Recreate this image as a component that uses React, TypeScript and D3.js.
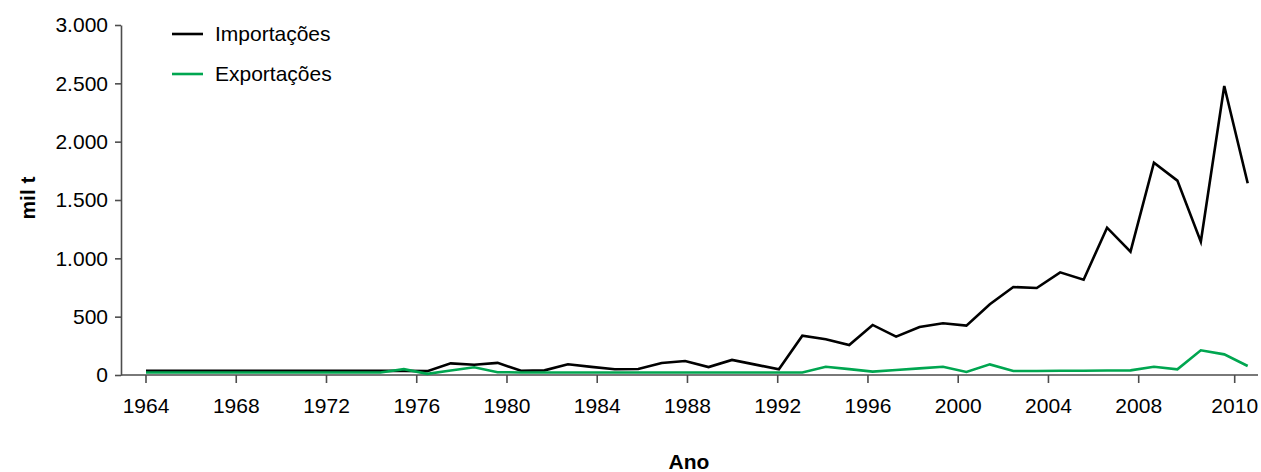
import React, { useEffect, useRef } from "react";
import * as d3 from "d3";

// anos 1964-2011, mil t
const anos = [
  1964, 1965, 1966, 1967, 1968, 1969, 1970, 1971, 1972, 1973, 1974, 1975,
  1976, 1977, 1978, 1979, 1980, 1981, 1982, 1983, 1984, 1985, 1986, 1987,
  1988, 1989, 1990, 1991, 1992, 1993, 1994, 1995, 1996, 1997, 1998, 1999,
  2000, 2001, 2002, 2003, 2004, 2005, 2006, 2007, 2008, 2009, 2010, 2011,
];

const importacoes = [
  35, 35, 35, 35, 35, 35, 35, 35, 35, 35, 35, 35,
  33, 100, 88, 104, 36, 40, 92, 70, 49, 51, 103, 120,
  68, 129, 89, 49, 337, 306, 257, 429, 329, 412, 443, 423,
  606, 754, 746, 880, 817, 1263, 1057, 1820, 1666, 1143, 2477, 1643,
];

const exportacoes = [
  22, 22, 22, 22, 22, 22, 22, 22, 22, 22, 22, 50,
  10, 38, 66, 24, 22, 22, 22, 22, 22, 22, 22, 22,
  22, 22, 22, 22, 22, 71, 50, 29, 43, 57, 71, 26,
  91, 34, 34, 36, 37, 38, 40, 71, 49, 212, 177, 77,
];

const tickAnos = [1964, 1968, 1972, 1976, 1980, 1984, 1988, 1992, 1996, 2000, 2004, 2008, 2010];
const tickValores = [0, 500, 1000, 1500, 2000, 2500, 3000];

const series = [
  { nome: "Importações", valores: importacoes, cor: "#000000" },
  { nome: "Exportações", valores: exportacoes, cor: "#00a650" },
];

function Grafico() {
  const ref = useRef<SVGSVGElement>(null);

  useEffect(() => {
    const width = 1261;
    const height = 472;
    const font = "'Liberation Sans', Arial, sans-serif";
    const fs = "21px";

    const svg = d3.select(ref.current);
    svg.selectAll("*").remove();
    svg.attr("width", width).attr("height", height);

    const x = d3.scaleLinear().domain([1964, 2011]).range([146, 1247.7]);
    // os rótulos do eixo x não acompanham exatamente os pontos
    const xTick = d3.scaleLinear().domain([1964, 2008, 2010]).range([146, 1138.7, 1234.7]);
    const y = d3.scaleLinear().domain([0, 3000]).range([375, 25]);

    const pt = d3.formatLocale({
      decimal: ",",
      thousands: ".",
      grouping: [3],
      currency: ["R$", ""],
    });
    const fmt = pt.format(",");

    const axisColor = "#4d4d4d";

    // eixo y
    const gy = svg.append("g").attr("transform", "translate(121,0)");
    gy.call(d3.axisLeft(y).tickValues(tickValores).tickFormat((d) => fmt(d as number)).tickSize(6).tickSizeOuter(0));
    gy.select(".domain").attr("stroke", axisColor).attr("stroke-width", 1.6);
    gy.selectAll(".tick line").attr("stroke", axisColor).attr("stroke-width", 1.6);
    gy.selectAll(".tick text")
      .attr("fill", "#000")
      .attr("x", -13)
      .style("font-family", font)
      .style("font-size", fs);

    // eixo x
    const gx = svg.append("g").attr("transform", "translate(0,375)");
    gx.append("line")
      .attr("x1", 121)
      .attr("x2", 1258)
      .attr("stroke", axisColor)
      .attr("stroke-width", 1.6);
    const t = gx
      .selectAll("g.tick")
      .data(tickAnos)
      .enter()
      .append("g")
      .attr("transform", (d) => `translate(${xTick(d)},0)`);
    t.append("line").attr("y2", 8).attr("stroke", axisColor).attr("stroke-width", 1.6);
    t.append("text")
      .attr("y", 23)
      .attr("dy", "0.71em")
      .attr("text-anchor", "middle")
      .style("font-family", font)
      .style("font-size", fs)
      .text((d) => String(d));

    // linhas
    const line = d3
      .line<number>()
      .x((_, i) => x(anos[i]))
      .y((d) => y(d));

    series.forEach((s) => {
      svg
        .append("path")
        .datum(s.valores)
        .attr("d", line)
        .attr("fill", "none")
        .attr("stroke", s.cor)
        .attr("stroke-width", 2.6)
        .attr("stroke-linejoin", "miter");
    });

    // legenda
    const leg = svg
      .selectAll("g.leg")
      .data(series)
      .enter()
      .append("g")
      .attr("transform", (_, i) => `translate(172,${34 + i * 40})`);
    leg.append("line").attr("x2", 31).attr("stroke", (d) => d.cor).attr("stroke-width", 2.6);
    leg
      .append("text")
      .attr("x", 43)
      .attr("dy", "0.35em")
      .style("font-family", font)
      .style("font-size", fs)
      .text((d) => d.nome);

    // títulos dos eixos
    svg
      .append("text")
      .attr("x", 689)
      .attr("y", 469)
      .attr("text-anchor", "middle")
      .style("font-family", font)
      .style("font-size", fs)
      .style("font-weight", "bold")
      .text("Ano");

    svg
      .append("text")
      .attr("transform", "translate(35,198) rotate(-90)")
      .attr("text-anchor", "middle")
      .style("font-family", font)
      .style("font-size", fs)
      .style("font-weight", "bold")
      .text("mil t");
  }, []);

  return <svg ref={ref} style={{ position: "absolute", left: 0, top: 0 }}></svg>;
}

export default function App() {
  return <Grafico />;
}
